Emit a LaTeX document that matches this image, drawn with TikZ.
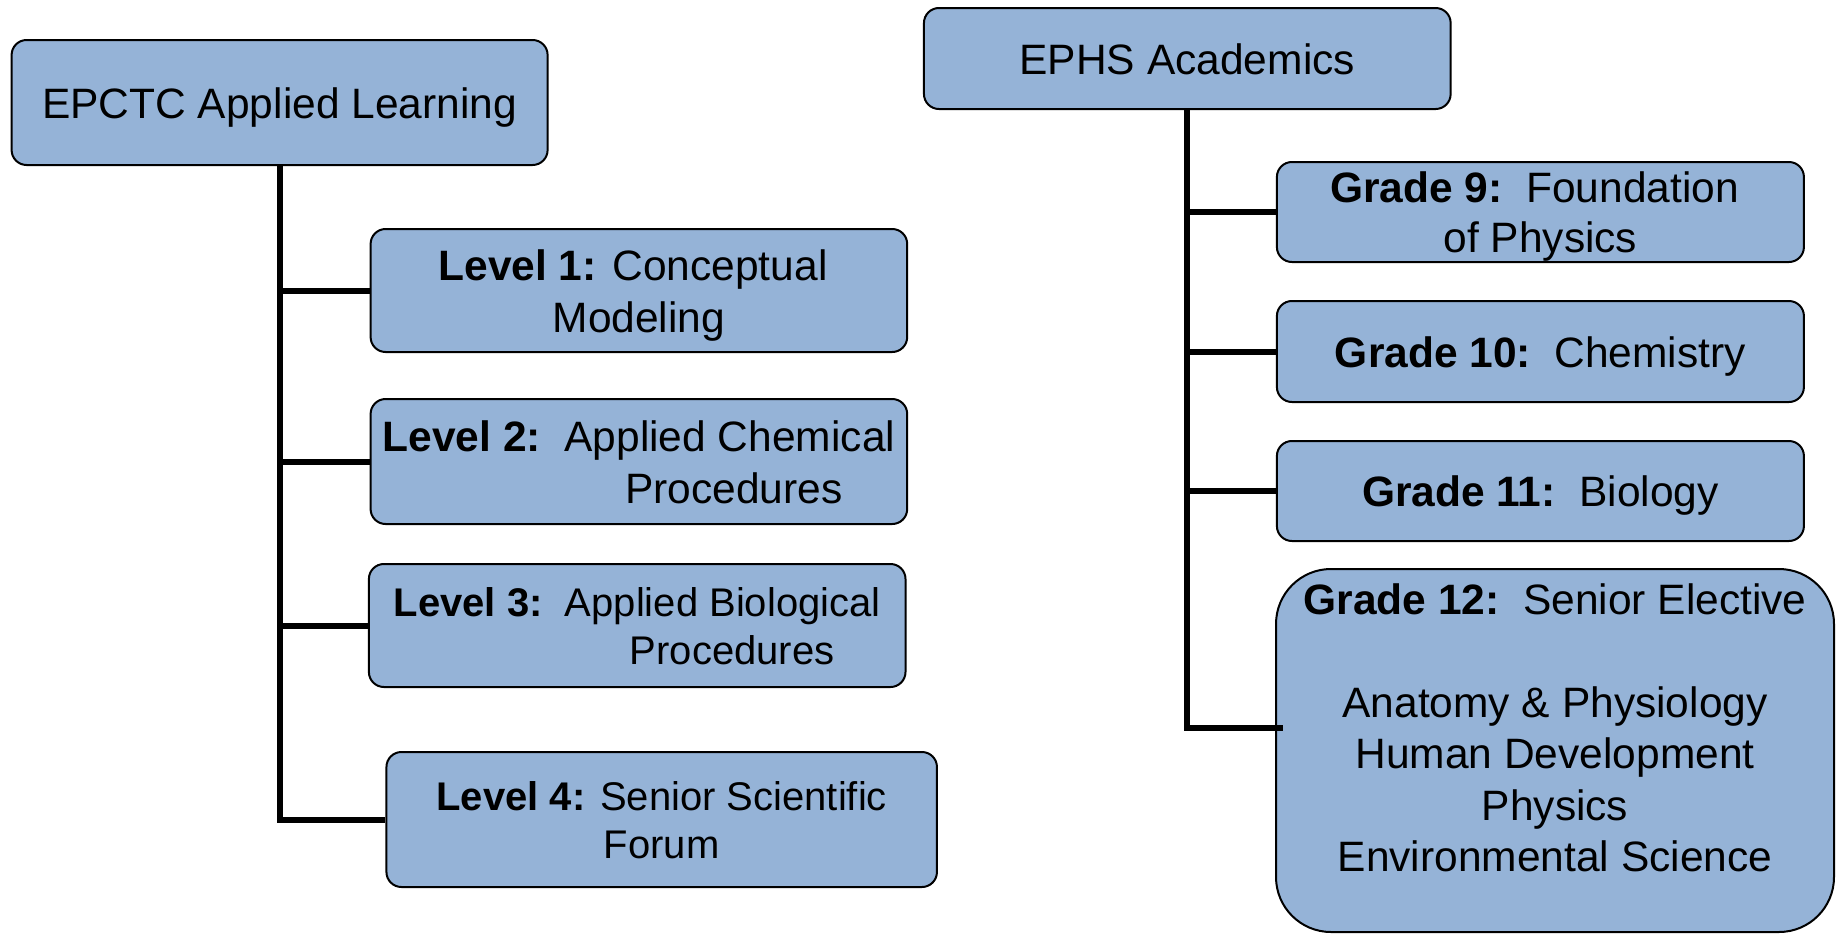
\documentclass[tikz,border=0pt]{standalone}
\usepackage{fontspec}
\setmainfont{Liberation Sans}
\definecolor{boxblue}{HTML}{95B3D7}
\newcommand\ms{\rule[-0.212em]{0pt}{1.165em}}
\newcommand\tsp{\hspace*{0.278em}}
\begin{document}
\begin{tikzpicture}[x=1pt,y=-1pt,
  box/.style={draw=black, line width=2pt, fill=boxblue, rounded corners=15pt,
    align=center, inner sep=0pt,
    font=\fontsize{42.5}{51.5}\selectfont},
  smallbox/.style={box, font=\fontsize{40}{48.5}\selectfont},
  conn/.style={draw=black, line width=6pt}]
\useasboundingbox (0,0) rectangle (1839,935);
% left tree
\node[box, minimum width=536pt, minimum height=125pt] (epctc) at (279.6,102.5) {\ms EPCTC Applied Learning};
\node[box, minimum width=536.6pt, minimum height=123pt] (lvl1) at (638.9,290.5) {\ms\textbf{Level 1:} Conceptual\tsp\\\ms Modeling};
\node[box, minimum width=536.6pt, minimum height=125pt] (lvl2) at (638.9,461.5) {\ms\textbf{Level 2:}\ \ Applied Chemical\\\ms\hspace*{190pt}Procedures};
\node[smallbox, minimum width=536.6pt, minimum height=123pt] (lvl3) at (637.2,625.5) {\ms\textbf{Level 3:}\ \ Applied Biological\\\ms\hspace*{190pt}Procedures};
\node[smallbox, minimum width=550.5pt, minimum height=135pt] (lvl4) at (661.7,819.5) {\ms\textbf{Level 4:} Senior Scientific\\\ms Forum};
% right tree
\node[box, minimum width=526.7pt, minimum height=101pt] (ephs) at (1187.3,58.5) {\ms EPHS Academics};
\node[box, minimum width=527pt, minimum height=100pt, font=\fontsize{42.5}{50}\selectfont] (g9) at (1540.4,212) {\ms\textbf{Grade 9:}\ \ Foundation\tsp\\\ms of Physics};
\node[box, minimum width=527pt, minimum height=101pt] (g10) at (1540.4,351.5) {\ms\textbf{Grade 10:}\ \ Chemistry};
\node[box, minimum width=527pt, minimum height=100pt] (g11) at (1540.4,491) {\ms\textbf{Grade 11:}\ \ Biology};
\node[box, minimum width=558pt, minimum height=363pt, rounded corners=55pt] (g12) at (1555,750.5)
  {\ms\textbf{Grade 12:}\ \ Senior Elective\\[51.5pt]\ms Anatomy \& Physiology\\\ms Human Development\\\ms Physics\\\ms\rule[-56pt]{0pt}{56pt}Environmental Science};
\coordinate (g12in) at (1283,728);
% connectors
\draw[conn] (epctc.south) |- (lvl4.west);
\draw[conn] (epctc.south |- lvl1.west) -- (lvl1.west);
\draw[conn] (epctc.south |- lvl2.west) -- (lvl2.west);
\draw[conn] (epctc.south |- lvl3.west) -- (lvl3.west);
\draw[conn] (ephs.south) |- (g12in);
\draw[conn] (ephs.south |- g9.west) -- (g9.west);
\draw[conn] (ephs.south |- g10.west) -- (g10.west);
\draw[conn] (ephs.south |- g11.west) -- (g11.west);
\end{tikzpicture}
\end{document}
